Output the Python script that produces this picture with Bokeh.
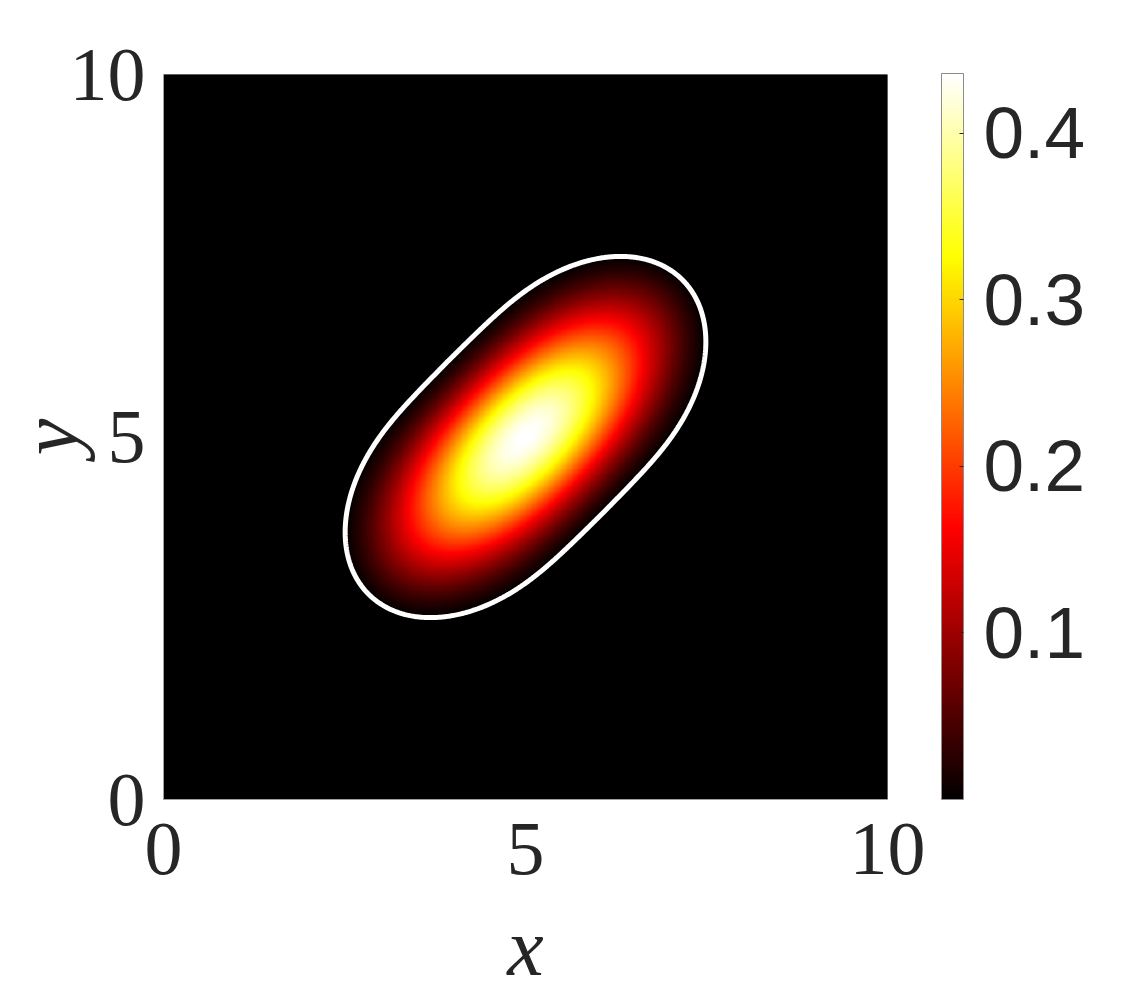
import numpy as np
from bokeh.plotting import figure
from bokeh.models import LinearColorMapper, ColorBar, FixedTicker
from bokeh.embed import file_html
from bokeh.resources import INLINE

# ---- values ----
x_limits = [0, 10]
y_limits = [0, 10]
x_ticks = [0, 5, 10]
y_ticks = [0, 5, 10]
cbar_ticks = [0.1, 0.2, 0.3, 0.4]
cbar_limits = [0.0, 0.436]
bump_center = [5.0, 5.0]
bump_angle_deg = [45.0]
bump_sigma = [1.55, 0.72]          # spread of the bright core along / across the diagonal
bump_peak = [0.436]
outline_straight_half = [1.0]      # half-length of the nearly straight sides of the outline
outline_end_radii = [2.14, 1.50]   # rounded ends of the outline (along / across the diagonal)
outline_blend = [0.8]              # smooths the join between sides and ends
outline_fade_exp = [4.0]           # how sharply the field fades to 0 at the outline
grid_n = [600]

# ---- field ----
n = grid_n[0]
xs = np.linspace(x_limits[0], x_limits[1], n)
ys = np.linspace(y_limits[0], y_limits[1], n)
X, Y = np.meshgrid(xs, ys)
th = np.deg2rad(bump_angle_deg[0])
u = (X - bump_center[0]) * np.cos(th) + (Y - bump_center[1]) * np.sin(th)
v = -(X - bump_center[0]) * np.sin(th) + (Y - bump_center[1]) * np.cos(th)

# normalised radius of the outline (1 on the white contour)
s = np.abs(u) - outline_straight_half[0]
s_pos = 0.5 * (s + np.sqrt(s ** 2 + outline_blend[0] ** 2))
R = np.sqrt((s_pos / outline_end_radii[0]) ** 2 + (v / outline_end_radii[1]) ** 2)
window = np.clip(1.0 - R ** outline_fade_exp[0], 0.0, 1.0)

gauss = np.exp(-0.5 * ((u / bump_sigma[0]) ** 2 + (v / bump_sigma[1]) ** 2))
Z = bump_peak[0] * gauss * window

# MATLAB "hot" colormap
N = 256
n1 = int(3 * N / 8)
n2 = n1
r = np.concatenate([np.arange(1, n1 + 1) / n1, np.ones(N - n1)])
gg = np.concatenate([np.zeros(n1), np.arange(1, n2 + 1) / n2, np.ones(N - n1 - n2)])
b = np.concatenate([np.zeros(n1 + n2), np.arange(1, N - n1 - n2 + 1) / (N - n1 - n2)])
hot = ["#%02x%02x%02x" % (int(round(a * 255)), int(round(c * 255)), int(round(d * 255)))
       for a, c, d in zip(r, gg, b)]
hot[0] = "#000000"

mapper = LinearColorMapper(palette=hot, low=cbar_limits[0], high=cbar_limits[1])

p = figure(frame_width=724, frame_height=725,
           x_range=tuple(x_limits), y_range=tuple(y_limits),
           output_backend="svg", toolbar_location=None,
           min_border_left=157, min_border_top=74, min_border_bottom=10,
           min_border_right=10)
p.outline_line_color = None
p.grid.visible = False
p.background_fill_color = "black"

p.image(image=[Z], x=x_limits[0], y=y_limits[0], dw=x_limits[1] - x_limits[0],
        dh=y_limits[1] - y_limits[0], color_mapper=mapper)

p.contour(xs, ys, R, levels=[1.0], line_color="white", line_width=5,
          fill_color=None)

for ax in (p.xaxis[0], p.yaxis[0]):
    ax.major_label_text_font = "Liberation Serif"
    ax.major_label_text_font_size = "76px"
    ax.major_label_text_color = "#262626"
    ax.axis_label_text_font = "Liberation Serif"
    ax.axis_label_text_font_style = "italic"
    ax.axis_label_text_font_size = "82px"
    ax.axis_label_text_color = "#262626"
    ax.major_tick_line_color = None
    ax.minor_tick_line_color = None
    ax.axis_line_color = "#a0a0a0"
    ax.axis_line_width = 1

p.xaxis.ticker = FixedTicker(ticks=x_ticks)
p.yaxis.ticker = FixedTicker(ticks=y_ticks)
p.xaxis.axis_label = "x"
p.yaxis.axis_label = "y"
p.xaxis.major_label_standoff = 18
p.yaxis.major_label_standoff = 12
p.xaxis.axis_label_standoff = 25
p.yaxis.axis_label_standoff = -28

cb = ColorBar(color_mapper=mapper, ticker=FixedTicker(ticks=cbar_ticks),
              width=22, height=726, padding=0, margin=0, location=(54, 0),
              major_label_text_font="Liberation Sans",
              major_label_text_font_size="73px",
              major_label_text_color="#262626",
              label_standoff=20,
              major_tick_line_color="#262626", major_tick_in=4, major_tick_out=0,
              minor_tick_line_color=None,
              bar_line_color="#8c8c8c", bar_line_width=1,
              border_line_color=None, background_fill_color=None)
p.add_layout(cb, "right")

open("out.html", "w").write(file_html(p, INLINE))
